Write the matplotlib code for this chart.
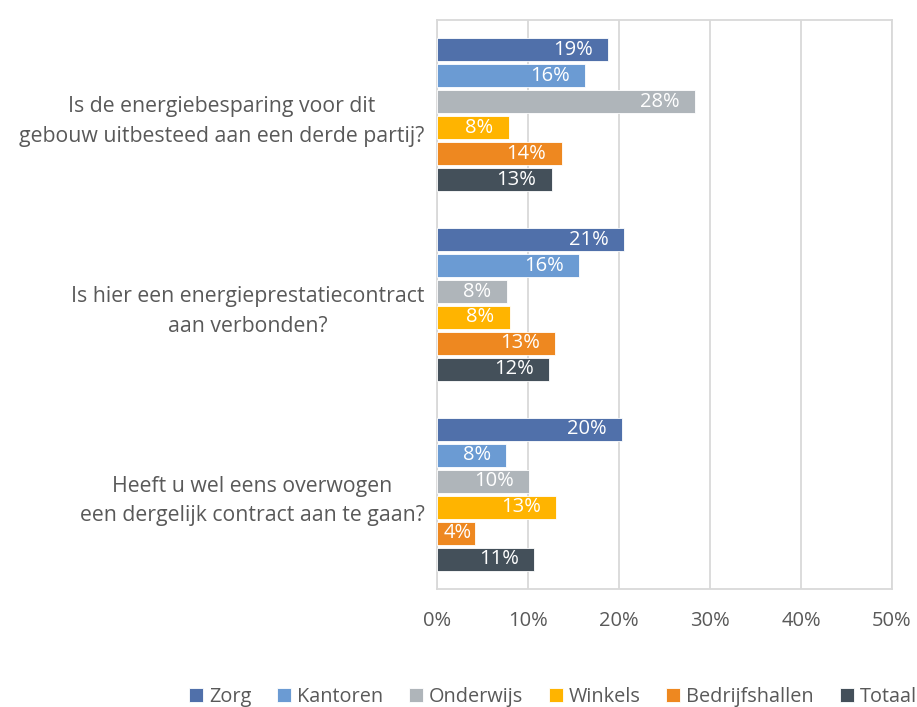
import matplotlib
matplotlib.use("Agg")
import matplotlib.pyplot as plt
import numpy as np

plt.rcParams['font.family'] = ['Open Sans', 'DejaVu Sans']

questions = [
    "Is de energiebesparing voor dit\ngebouw uitbesteed aan een derde partij?",
    "Is hier een energieprestatiecontract\naan verbonden?",
    "Heeft u wel eens overwogen\neen dergelijk contract aan te gaan?",
]
series = ["Zorg", "Kantoren", "Onderwijs", "Winkels", "Bedrijfshallen", "Totaal"]
colors = ["#5070AA", "#6B9BD3", "#AFB5BA", "#FFB400", "#EE8820", "#44505A"]

zorg = [18.8, 20.6, 20.3]
kantoren = [16.3, 15.6, 7.6]
onderwijs = [28.4, 7.7, 10.1]
winkels = [7.9, 8.0, 13.1]
bedrijfshallen = [13.7, 13.0, 4.2]
totaal = [12.6, 12.3, 10.7]
values = [zorg, kantoren, onderwijs, winkels, bedrijfshallen, totaal]

grey = "#595959"
fig = plt.figure(figsize=(9.17, 7.07), dpi=100)
ax = fig.add_axes([437/917, 1 - 589/707, (892-437)/917, (589-20)/707])

pitch = 0.137
height = 0.121
y = np.arange(len(questions))
for i, (name, vals) in enumerate(zip(series, values)):
    pos = y + (i - 2.5) * pitch
    ax.barh(pos, vals, height=height, color=colors[i], label=name,
            edgecolor="white", linewidth=0.6, zorder=3)
    for p, v in zip(pos, vals):
        txt = f"{round(v):.0f}%"
        if v > 6:
            ax.text(v - 1.7, p, txt, ha="right", va="center", color="white",
                    fontsize=14.5, zorder=4)
        else:
            ax.text(v / 2 + 0.2, p, txt, ha="center", va="center", color="white",
                    fontsize=14.5, zorder=4)

ax.set_ylim(2.5, -0.5)
ax.set_xlim(0, 50)
ax.set_xticks(np.arange(0, 51, 10))
ax.set_xticklabels([f"{t}%" for t in range(0, 51, 10)])
ax.set_yticks(y)
ax.set_yticklabels(questions, multialignment="center", linespacing=1.55)
ax.tick_params(axis="x", length=0, pad=16, labelsize=14.5, labelcolor=grey)
ax.tick_params(axis="y", length=0, pad=9, labelsize=15.3, labelcolor=grey)
ax.grid(axis="x", color="#D9D9D9", linewidth=1.3, zorder=0)
for s in ax.spines.values():
    s.set_color("#D9D9D9")
    s.set_linewidth(1.3)

fig.legend(loc="center", bbox_to_anchor=(0.603, 0.014), ncol=6, frameon=False,
           fontsize=14.3, labelcolor=grey, handlelength=0.7, handleheight=0.7,
           handletextpad=0.3, columnspacing=1.3, borderaxespad=0)

fig.savefig("out.png", dpi=100)
